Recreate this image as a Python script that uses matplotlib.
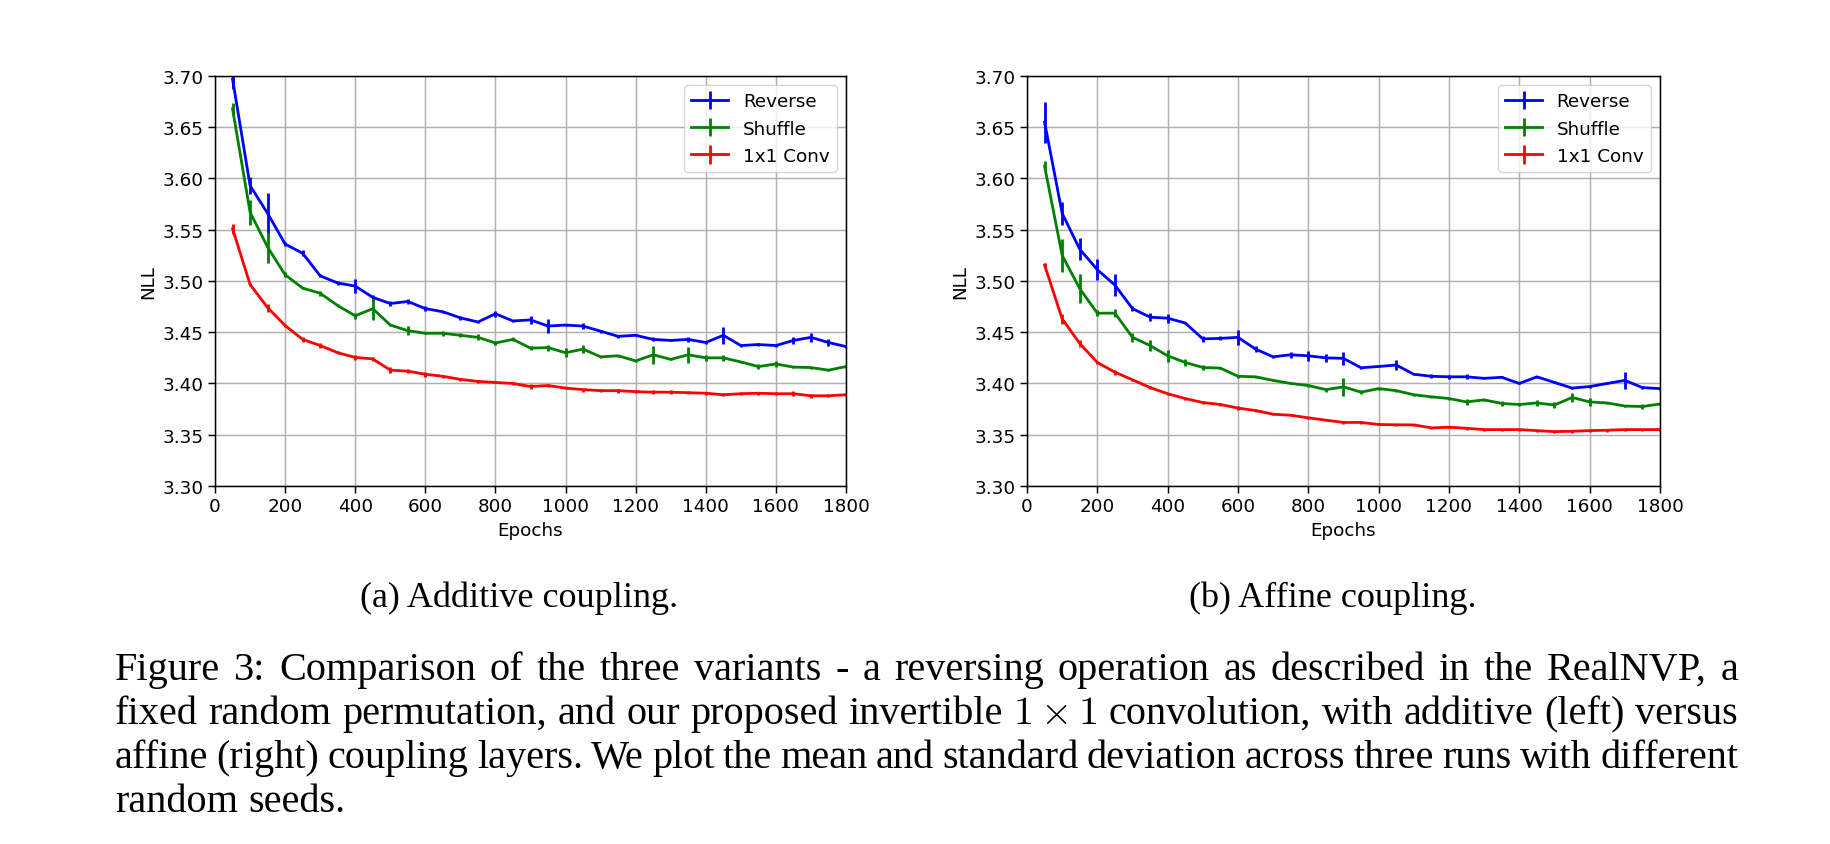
import matplotlib
matplotlib.use('Agg')
import matplotlib.pyplot as plt

# epochs where the NLL was logged
epochs = [50, 100, 150, 200, 250, 300, 350, 400, 450, 500, 550, 600, 650, 700, 750, 800, 850, 900,
          950, 1000, 1050, 1100, 1150, 1200, 1250, 1300, 1350, 1400, 1450, 1500, 1550, 1600, 1650, 1700, 1750, 1800]

# (a) additive coupling
rev_a = [3.697, 3.593, 3.566, 3.536, 3.527, 3.505, 3.498, 3.495, 3.484, 3.478, 3.480, 3.473, 3.470, 3.464, 3.460, 3.468, 3.461, 3.462,
         3.456, 3.457, 3.456, 3.451, 3.446, 3.447, 3.443, 3.442, 3.443, 3.440, 3.447, 3.437, 3.438, 3.437, 3.442, 3.445, 3.440, 3.436]
rev_a_err = [0.010, 0.008, 0.020, 0.002, 0.003, 0.0015, 0.002, 0.007, 0.0026, 0.002, 0.0026, 0.0026, 0.001, 0.002, 0.001, 0.003, 0.001, 0.004,
             0.007, 0.0013, 0.0026, 0.0016, 0.0016, 0.001, 0.002, 0.001, 0.0026, 0.001, 0.0085, 0.001, 0.0013, 0.001, 0.003, 0.0045, 0.003, 0.001]
shuf_a = [3.668, 3.567, 3.533, 3.506, 3.493, 3.488, 3.476, 3.466, 3.473, 3.457, 3.4515, 3.449, 3.449, 3.447, 3.445, 3.4395, 3.443, 3.4345,
          3.435, 3.430, 3.4335, 3.426, 3.427, 3.422, 3.428, 3.4235, 3.428, 3.425, 3.425, 3.421, 3.4165, 3.419, 3.416, 3.4155, 3.413, 3.4165]
shuf_a_err = [0.006, 0.012, 0.015, 0.0026, 0.0013, 0.0026, 0.0013, 0.003, 0.011, 0.0013, 0.0045, 0.001, 0.0026, 0.002, 0.003, 0.002, 0.002, 0.002,
              0.003, 0.0045, 0.004, 0.001, 0.001, 0.001, 0.009, 0.001, 0.008, 0.0026, 0.0026, 0.001, 0.0026, 0.0026, 0.001, 0.001, 0.001, 0.001]
conv_a = [3.551, 3.4966, 3.474, 3.4565, 3.443, 3.437, 3.430, 3.4254, 3.424, 3.413, 3.412, 3.409, 3.407, 3.404, 3.402, 3.401, 3.400, 3.397,
          3.398, 3.3955, 3.394, 3.393, 3.393, 3.392, 3.3915, 3.3915, 3.391, 3.3905, 3.389, 3.390, 3.3905, 3.390, 3.390, 3.388, 3.388, 3.389]
conv_a_err = [0.005, 0.0013, 0.004, 0.0013, 0.0026, 0.0026, 0.0013, 0.0026, 0.002, 0.003, 0.002, 0.0026, 0.0013, 0.0013, 0.0013, 0.001, 0.0013, 0.002,
              0.0013, 0.0013, 0.002, 0.0013, 0.002, 0.0013, 0.002, 0.002, 0.0013, 0.0013, 0.0013, 0.0015, 0.0015, 0.0013, 0.0026, 0.002, 0.0016, 0.0013]

# (b) affine coupling
rev_b = [3.655, 3.566, 3.531, 3.511, 3.496, 3.473, 3.4647, 3.4637, 3.459, 3.4435, 3.444, 3.445, 3.4335, 3.426, 3.428, 3.427, 3.425, 3.4245,
         3.4153, 3.4166, 3.418, 3.409, 3.407, 3.4065, 3.4065, 3.405, 3.406, 3.400, 3.4065, 3.401, 3.3955, 3.397, 3.400, 3.403, 3.396, 3.395]
rev_b_err = [0.020, 0.0115, 0.0105, 0.010, 0.0105, 0.0026, 0.004, 0.0045, 0.001, 0.0026, 0.002, 0.007, 0.003, 0.001, 0.003, 0.005, 0.004, 0.006,
             0.001, 0.001, 0.0045, 0.001, 0.002, 0.002, 0.0026, 0.001, 0.001, 0.001, 0.001, 0.001, 0.001, 0.001, 0.001, 0.008, 0.0013, 0.001]
shuf_b = [3.612, 3.525, 3.4925, 3.4686, 3.4686, 3.445, 3.437, 3.427, 3.4205, 3.4156, 3.415, 3.407, 3.4065, 3.403, 3.400, 3.398, 3.394, 3.3967,
          3.3915, 3.395, 3.393, 3.389, 3.387, 3.3853, 3.382, 3.384, 3.3805, 3.3795, 3.381, 3.379, 3.3863, 3.382, 3.381, 3.378, 3.3775, 3.380]
shuf_b_err = [0.005, 0.016, 0.014, 0.0026, 0.004, 0.0045, 0.005, 0.006, 0.003, 0.002, 0.0013, 0.0016, 0.001, 0.001, 0.001, 0.001, 0.002, 0.009,
              0.002, 0.001, 0.001, 0.001, 0.001, 0.001, 0.003, 0.0013, 0.002, 0.0013, 0.003, 0.0026, 0.0045, 0.004, 0.001, 0.0013, 0.002, 0.001]
conv_b = [3.5156, 3.463, 3.439, 3.4205, 3.411, 3.4036, 3.396, 3.390, 3.3853, 3.3814, 3.3795, 3.376, 3.3736, 3.370, 3.369, 3.3665, 3.3642, 3.362,
          3.362, 3.360, 3.3597, 3.3596, 3.3567, 3.3573, 3.3563, 3.355, 3.355, 3.355, 3.354, 3.353, 3.3534, 3.354, 3.3544, 3.355, 3.355, 3.355]
conv_b_err = [0.002, 0.005, 0.0033, 0.0016, 0.0026, 0.001, 0.0013, 0.001, 0.001, 0.0016, 0.001, 0.0016, 0.0016, 0.001, 0.001, 0.001, 0.001, 0.0013,
              0.0016, 0.001, 0.001, 0.001, 0.0013, 0.001, 0.0013, 0.0013, 0.001, 0.001, 0.001, 0.0013, 0.0013, 0.001, 0.0013, 0.001, 0.001, 0.001]

labels = ['Reverse', 'Shuffle', '1x1 Conv']
colors = ['blue', 'green', 'red']
yticks = [3.30, 3.35, 3.40, 3.45, 3.50, 3.55, 3.60, 3.65, 3.70]
xticks = [0, 200, 400, 600, 800, 1000, 1200, 1400, 1600, 1800]

subcaptions = ['(a) Additive coupling.', '(b) Affine coupling.']
caption_lines = [
    'Figure 3: Comparison of the three variants - a reversing operation as described in the RealNVP, a',
    r'fixed random permutation, and our proposed invertible $1\times1$ convolution, with additive (left) versus',
    'affine (right) coupling layers. We plot the mean and standard deviation across three runs with different',
    'random seeds.',
]

# stil matplotlib mac dinh, phong to ~1.33 lan
plt.rcParams['font.size'] = 13.2
plt.rcParams['lines.linewidth'] = 2.0
plt.rcParams['axes.linewidth'] = 1.07
plt.rcParams['grid.linewidth'] = 1.07
plt.rcParams['grid.color'] = '#b0b0b0'
for ax_name in ['xtick', 'ytick']:
    plt.rcParams[ax_name + '.major.size'] = 4.7
    plt.rcParams[ax_name + '.major.width'] = 1.07
plt.rcParams['mathtext.fontset'] = 'cm'

fig = plt.figure(figsize=(18.3, 8.45), dpi=100)
ax1 = fig.add_axes([0.1175, 0.4237, 0.3448, 0.4852])
ax2 = fig.add_axes([0.5612, 0.4237, 0.3459, 0.4852])

panels = [
    (ax1, [rev_a, shuf_a, conv_a], [rev_a_err, shuf_a_err, conv_a_err]),
    (ax2, [rev_b, shuf_b, conv_b], [rev_b_err, shuf_b_err, conv_b_err]),
]
for ax, means, errs in panels:
    for m, e, c, lab in zip(means, errs, colors, labels):
        ax.errorbar(epochs, m, yerr=e, color=c, label=lab, capsize=0, elinewidth=2.0)
    ax.set_xlim(0, 1800)
    ax.set_ylim(3.30, 3.70)
    ax.set_xticks(xticks)
    ax.set_yticks(yticks)
    ax.yaxis.set_major_formatter(matplotlib.ticker.FormatStrFormatter('%.2f'))
    ax.set_xlabel('Epochs')
    ax.set_ylabel('NLL')
    ax.grid(True)
    ax.legend(loc='upper right')

# chu thich con (a), (b)
serif = 'Liberation Serif'
fig.text(519 / 1830, 1 - 607 / 845, subcaptions[0], ha='center', va='baseline', family=serif, fontsize=26)
fig.text(1333 / 1830, 1 - 607 / 845, subcaptions[1], ha='center', va='baseline', family=serif, fontsize=26)

# chu thich chinh, can deu hai ben (justify) tung tu
x_left, x_right = 115, 1738
baselines = [680, 724, 768, 812]
fig.canvas.draw()
renderer = fig.canvas.get_renderer()
for i, (line, yb) in enumerate(zip(caption_lines, baselines)):
    words = line.split(' ')
    texts = [fig.text(0, 1 - yb / 845, w, va='baseline', ha='left', family=serif, fontsize=29) for w in words]
    widths = [t.get_window_extent(renderer).width for t in texts]
    space = texts[0].get_fontsize() * 100 / 72 * 0.25
    if i < len(caption_lines) - 1:
        gap = (x_right - x_left - sum(widths)) / (len(words) - 1)
    else:
        gap = space
    x = x_left
    for t, w in zip(texts, widths):
        t.set_x(x / 1830)
        x += w + gap

fig.savefig('out.png', dpi=100)
